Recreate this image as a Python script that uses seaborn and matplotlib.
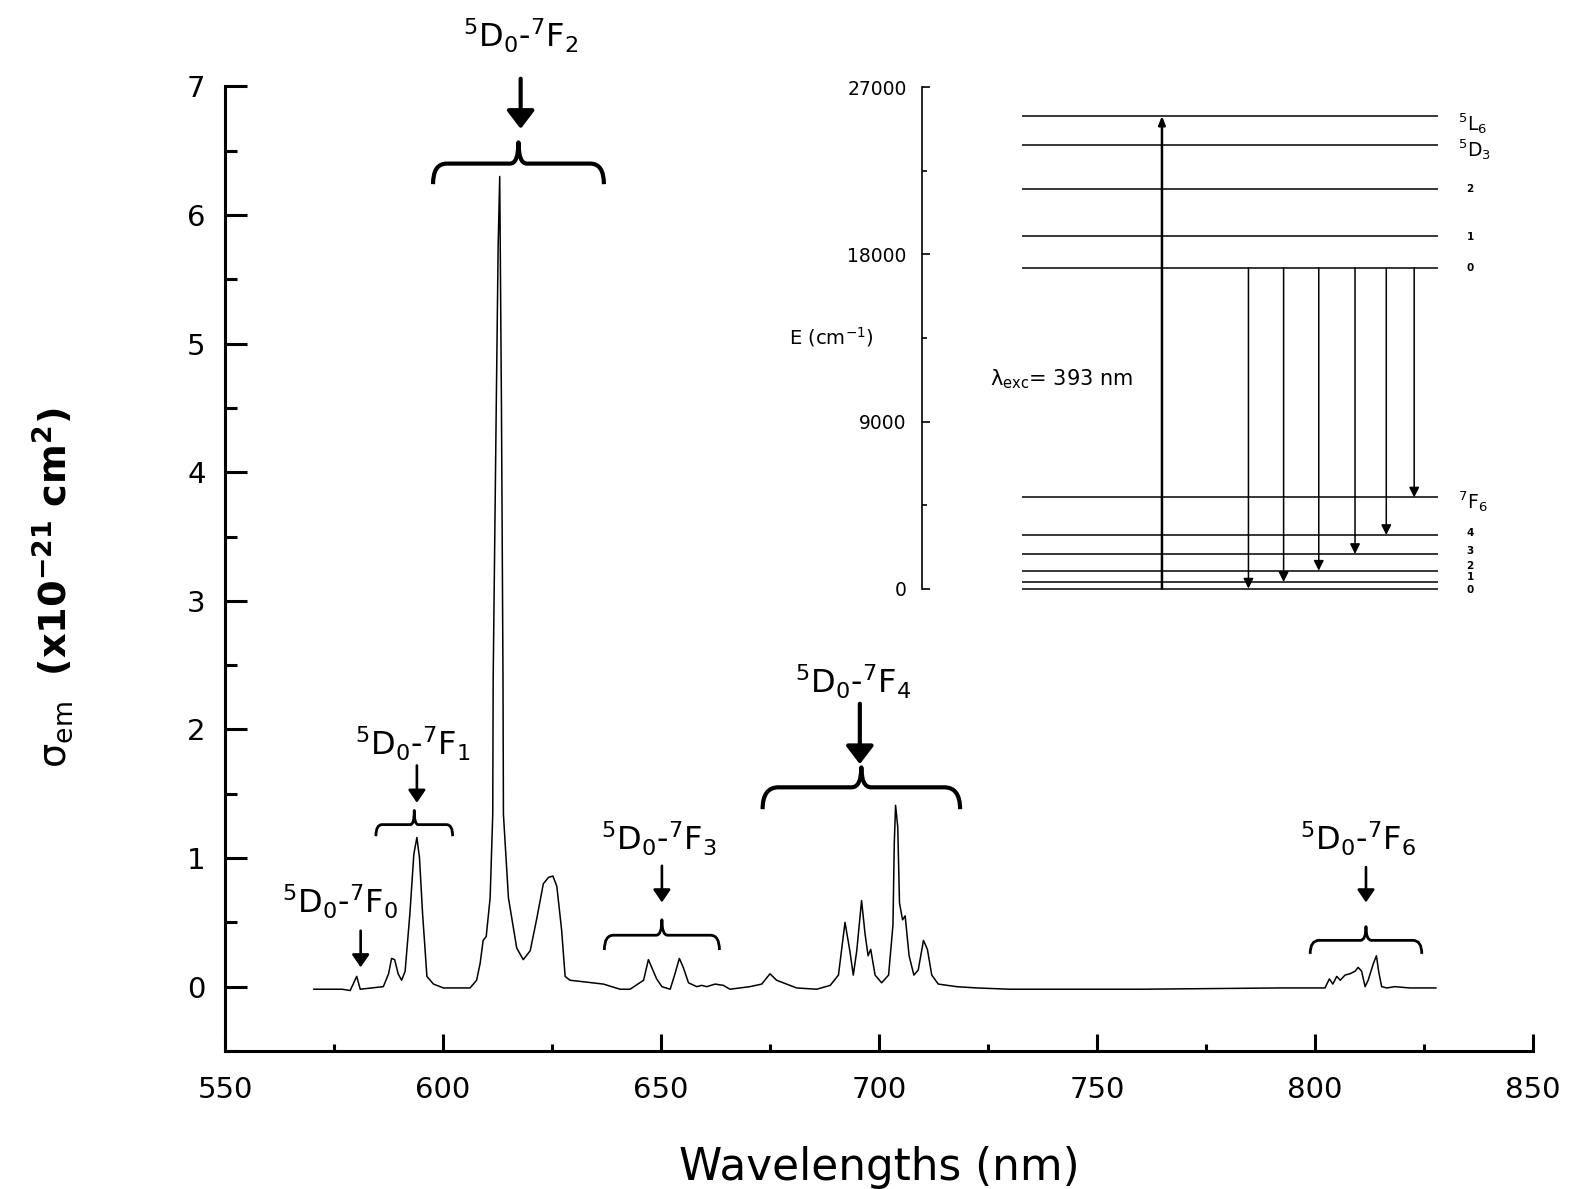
import numpy as np
import pandas as pd
import matplotlib
matplotlib.use("Agg")
import matplotlib.pyplot as plt
import seaborn as sns
from matplotlib.path import Path
from matplotlib.patches import PathPatch
from matplotlib.ticker import MultipleLocator

# ---------------- data ----------------
wavelength = [570.3, 576.8, 578.7, 580.2, 581.0, 586.3, 587.5, 588.2, 588.9, 589.7,
              590.5, 591.3, 592.4, 593.3, 594.0, 594.6, 595.3, 596.3, 597.8, 600.1,
              606.2, 607.7, 608.5, 609.2, 609.9, 610.8, 611.4, 611.5, 612.2, 612.65,
              612.7, 613.0, 613.4, 613.75, 613.85, 615.0, 616.9, 618.4, 620.0, 621.5,
              623.0, 624.2, 625.2, 626.1, 627.2, 628.0, 629.1, 636.8, 640.6, 642.9,
              646.0, 647.1, 649.0, 650.2, 652.1, 653.2, 654.2, 655.1, 656.3, 658.2,
              659.3, 660.5, 662.4, 664.3, 665.8, 670.4, 673.1, 675.0, 676.5, 678.8,
              681.1, 685.7, 688.8, 690.7, 692.2, 693.3, 694.1, 694.9, 696.0, 696.8,
              697.5, 698.1, 699.1, 700.6, 702.2, 703.2, 703.5, 703.8, 704.3, 704.7,
              705.4, 706.0, 706.9, 708.0, 709.0, 710.2, 711.1, 712.1, 713.6, 717.8,
              722.4, 730.0, 760.0, 792.0, 802.3, 803.3, 804.1, 805.0, 805.8, 806.9,
              808.0, 809.2, 809.9, 810.7, 811.5, 812.2, 813.4, 814.1, 814.6, 815.3,
              816.5, 818.3, 821.7, 827.8]
sigma_em = [-0.02, -0.02, -0.03, 0.08, -0.02, 0.00, 0.10, 0.22, 0.21, 0.10,
            0.05, 0.12, 0.57, 1.03, 1.16, 1.00, 0.57, 0.08, 0.02, -0.01,
            -0.01, 0.05, 0.18, 0.36, 0.39, 0.69, 1.34, 2.40, 4.50, 5.79,
            5.85, 6.30, 4.50, 2.40, 1.34, 0.69, 0.30, 0.21, 0.28, 0.53,
            0.80, 0.85, 0.86, 0.78, 0.44, 0.08, 0.05, 0.02, -0.02, -0.02,
            0.05, 0.21, 0.06, 0.00, -0.02, 0.10, 0.22, 0.15, 0.03, 0.00,
            0.01, 0.00, 0.02, 0.01, -0.02, 0.00, 0.02, 0.10, 0.05, 0.02,
            -0.01, -0.02, 0.01, 0.09, 0.50, 0.28, 0.09, 0.28, 0.67, 0.41,
            0.24, 0.29, 0.09, 0.03, 0.09, 0.48, 1.11, 1.41, 1.24, 0.65,
            0.52, 0.55, 0.24, 0.09, 0.13, 0.36, 0.29, 0.09, 0.02, 0.00,
            -0.01, -0.02, -0.02, -0.01, -0.01, 0.06, 0.02, 0.08, 0.05, 0.09,
            0.10, 0.12, 0.15, 0.12, 0.00, 0.05, 0.18, 0.24, 0.12, 0.00,
            -0.01, 0.00, -0.01, -0.01]

# transition annotations
trans_labels = [r'$^{5}$D$_{0}$-$^{7}$F$_{0}$', r'$^{5}$D$_{0}$-$^{7}$F$_{1}$',
                r'$^{5}$D$_{0}$-$^{7}$F$_{2}$', r'$^{5}$D$_{0}$-$^{7}$F$_{3}$',
                r'$^{5}$D$_{0}$-$^{7}$F$_{4}$', r'$^{5}$D$_{0}$-$^{7}$F$_{6}$']
text_x = [576.4, 593.0, 617.7, 649.4, 694.1, 809.9]
text_y = [0.565, 1.80, 7.30, 1.06, 2.28, 1.06]
arrow_x = [581.1, 594.0, 617.8, 650.2, 695.6, 811.7]
arrow_top = [0.435, 1.72, 7.06, 0.94, 2.20, 0.93]
arrow_tip = [0.15, 1.43, 6.67, 0.655, 1.73, 0.655]
arrow_big = [False, False, True, False, True, False]
brace_x0 = [None, 584.6, 597.7, 637.0, 673.3, 798.9]
brace_x1 = [None, 602.2, 636.9, 663.4, 718.6, 824.5]
brace_y = [None, 1.26, 6.40, 0.40, 1.55, 0.36]
brace_drop = [None, 0.09, 0.16, 0.115, 0.17, 0.105]
brace_tip = [None, 0.11, 0.165, 0.12, 0.155, 0.107]

# energy level diagram (cm-1)
level_E = [25460, 23897, 21527, 18995, 17271, 4908, 2887, 1864, 964, 356, 0]
level_names = [r'$^{5}$L$_{6}$', r'$^{5}$D$_{3}$', '2', '1', '0',
               r'$^{7}$F$_{6}$', '4', '3', '2', '1', '0']
label_E = [25050, 23650, 21550, 18950, 17250, 4700, 3000, 2050, 1200, 600, -100]
emission_x = [58.5, 64.8, 71.1, 77.6, 83.2, 88.2]
emission_target = [0, 356, 964, 1864, 2887, 4908]
excitation_x = 43.0

# ---------------- figure ----------------
sns.set_theme(style="ticks")
plt.rcParams['font.family'] = ['DejaVu Sans']
plt.rcParams['mathtext.default'] = 'regular'
plt.rcParams['text.color'] = 'black'
plt.rcParams['axes.labelcolor'] = 'black'
plt.rcParams['xtick.color'] = 'black'
plt.rcParams['ytick.color'] = 'black'
plt.rcParams['axes.edgecolor'] = 'black'

fig = plt.figure(figsize=(15.75, 11.89), dpi=100)
ax = fig.add_axes([0.1429, 0.1161, 0.8304, 0.8112])

df = pd.DataFrame({'wl': wavelength, 's': sigma_em})
sns.lineplot(data=df, x='wl', y='s', ax=ax, color='black', lw=1.1,
             sort=False, estimator=None)

ax.set_xlim(550, 850)
ax.set_ylim(-0.5, 7)
ax.xaxis.set_major_locator(MultipleLocator(50))
ax.xaxis.set_minor_locator(MultipleLocator(25))
ax.yaxis.set_major_locator(MultipleLocator(1))
ax.yaxis.set_minor_locator(MultipleLocator(0.5))
for s in ['top', 'right']:
    ax.spines[s].set_visible(False)
for s in ['left', 'bottom']:
    ax.spines[s].set_linewidth(2.2)
    ax.spines[s].set_color('black')
ax.tick_params(axis='y', which='major', direction='in', length=16, width=2.2,
               labelsize=21, pad=14, colors='black')
ax.tick_params(axis='y', which='minor', direction='in', length=8.6, width=2.2)
ax.tick_params(axis='x', which='major', direction='in', length=12, width=2.2,
               labelsize=21, pad=18, colors='black')
ax.tick_params(axis='x', which='minor', direction='in', length=5, width=2.2)

ax.set_xlabel('Wavelengths (nm)', fontsize=31.5, color='black')
ax.xaxis.label.set_va('center')
ax.xaxis.set_label_coords(0.5, -0.121)
ax.set_ylabel(r'$\sigma_{em}$  $\mathbf{(x10^{-21}\ cm^{2})}$', fontsize=27.5,
              color='black')
ax.yaxis.label.set_va('center')
ax.yaxis.set_label_coords(-0.1315, 0.48)


def draw_brace(axis, x0, x1, yh, drop, tip, lw):
    w = x1 - x0
    xc = 0.5 * (x0 + x1)
    r1 = 0.08 * w
    r2 = 0.05 * w
    verts = [(x0, yh - drop), (x0, yh), (x0 + r1, yh),
             (xc - r2, yh), (xc, yh), (xc, yh + tip),
             (xc, yh), (xc + r2, yh),
             (x1 - r1, yh), (x1, yh), (x1, yh - drop)]
    codes = [Path.MOVETO, Path.CURVE3, Path.CURVE3,
             Path.LINETO, Path.CURVE3, Path.CURVE3,
             Path.CURVE3, Path.CURVE3,
             Path.LINETO, Path.CURVE3, Path.CURVE3]
    axis.add_patch(PathPatch(Path(verts, codes), fill=False, lw=lw,
                             edgecolor='black', capstyle='butt', joinstyle='round'))


for i, lab in enumerate(trans_labels):
    ax.text(text_x[i], text_y[i], lab, ha='center', va='baseline',
            fontsize=23, color='black')
    if arrow_big[i]:
        style = '-|>,head_length=0.55,head_width=0.42'
        lw = 3.0
    else:
        style = '-|>,head_length=0.38,head_width=0.26'
        lw = 1.9
    ax.annotate('', xy=(arrow_x[i], arrow_tip[i]), xytext=(arrow_x[i], arrow_top[i]),
                arrowprops=dict(arrowstyle=style, lw=lw, color='black',
                                mutation_scale=20, shrinkA=0, shrinkB=0))
    if brace_x0[i] is not None:
        draw_brace(ax, brace_x0[i], brace_x1[i], brace_y[i], brace_drop[i],
                   brace_tip[i], 3.0 if arrow_big[i] else 2.0)

# ---------------- inset energy diagram ----------------
ax_in = fig.add_axes([0.5854, 0.505, 0.3543, 0.4215])
ax_in.set_facecolor('none')
ax_in.set_xlim(0, 100)
ax_in.set_ylim(0, 27000)
for s in ['top', 'right', 'bottom']:
    ax_in.spines[s].set_visible(False)
ax_in.spines['left'].set_linewidth(1.2)
ax_in.spines['left'].set_color('black')
ax_in.set_xticks([])
ax_in.yaxis.set_major_locator(MultipleLocator(9000))
ax_in.yaxis.set_minor_locator(MultipleLocator(4500))
ax_in.tick_params(axis='y', which='major', direction='in', length=6, width=1.2,
                  labelsize=13.5, pad=11, colors='black')
ax_in.tick_params(axis='y', which='minor', direction='in', length=3.3, width=1.2)

ax_in.hlines(level_E, 18.0, 92.5, color='black', lw=1.1, clip_on=False)
for E, name, ly in zip(level_E, level_names, label_E):
    if name.startswith('$'):
        ax_in.text(96.0, ly, name, ha='left', va='center', fontsize=13.5,
                   clip_on=False)
    else:
        ax_in.text(98.2, ly, name, ha='center', va='center', fontsize=7.5,
                   fontweight='bold', clip_on=False)

ax_in.annotate('', xy=(excitation_x, level_E[0]), xytext=(excitation_x, 0),
               arrowprops=dict(arrowstyle='-|>,head_length=0.5,head_width=0.2',
                               lw=1.8, color='black', mutation_scale=10,
                               shrinkA=0, shrinkB=0), annotation_clip=False)
for ex, et in zip(emission_x, emission_target):
    ax_in.annotate('', xy=(ex, et), xytext=(ex, level_E[4]),
                   arrowprops=dict(arrowstyle='-|>,head_length=0.6,head_width=0.3',
                                   lw=1.1, color='black', mutation_scale=10,
                                   shrinkA=0, shrinkB=0), annotation_clip=False)

ax_in.text(-16.2, 13527, r'E (cm$^{-1}$)', ha='center', va='center', fontsize=14)
ax_in.text(12.1, 11254, r'$\lambda_{exc}$= 393 nm', ha='left', va='center',
           fontsize=15)

fig.savefig('out.png', dpi=100, facecolor='white')
